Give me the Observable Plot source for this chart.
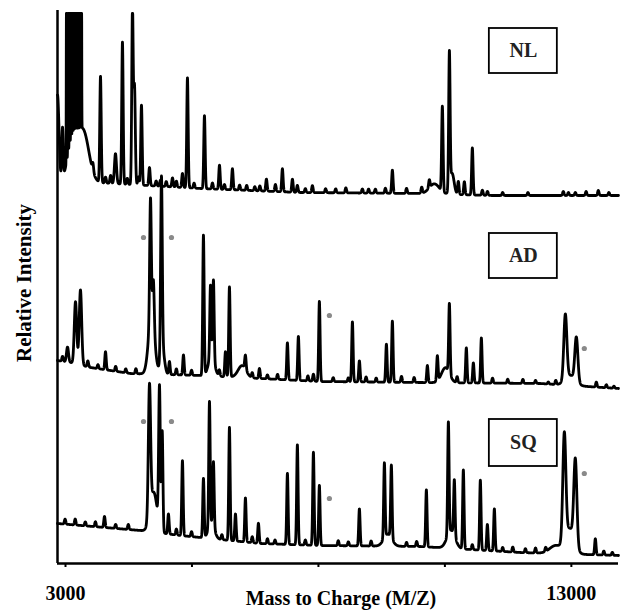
<!DOCTYPE html>
<html><head><meta charset="utf-8">
<script src="https://cdn.jsdelivr.net/npm/d3@7"></script>
<script src="https://cdn.jsdelivr.net/npm/@observablehq/plot@0.6"></script>
<style>
html,body{margin:0;padding:0;background:#fff;}
#chart svg{font-family:"Liberation Serif","Times New Roman",serif;font-weight:bold;}
</style></head><body><div id="chart"></div>
<script>
// x ticks (mass to charge)
const xTicks = [3000, 5500, 8000, 10500, 13000];
const xTickLabels = [3000, 13000];

// baselines of each spectrum: [m/z, intensity]
const nlBaseline = [[3000,378],[3750,381],[4440,379],[5830,375],[7800,371],[10200,370],[11590,368],[14090,368]];
const adBaseline = [[3000,203],[3257,201],[3652,196],[4442,190],[5826,188],[7012,185],[8197,182],[10173,181],[12545,180],[14090,175]];
const sqBaseline = [[3000,40],[4640,33],[5430,28],[7012,20],[8197,18],[10173,17],[12150,11],[14090,8]];

// peaks: [m/z, height above baseline, width (sigma, m/z)]
const nlPeaks = [
  [3000,90,30],[3099,51,14],[3296,45,100],[3514,50,110],
  [3178,200,4],[3208,200,4],[3237,200,4],[3267,200,4],[3296,200,4],[3326,200,4],
  [3356,200,4],[3385,200,4],[3415,200,4],[3445,200,4],[3474,200,4],
  [3850,106],[4146,30,20],[4284,142],[4482,175],[4522,98,16],[4660,80],[4818,18],[5035,6],
  [5273,9],[5470,14],[5569,110],[5905,73],[6063,6],[6202,24],[6458,21],[6740,5],[7130,12],
  [7308,7],[7446,23],[7644,13],[7742,7],[8039,7],[8500,4],[9027,4],[9284,4],[9482,5],
  [9620,23],[10450,10,100],[10608,85],[10747,135],[10800,21,40],[10924,13],[11043,13],
  [11201,47],[11399,5],[12999,4],[13237,3],[13691,5],
  [3700,8],[3950,6],[4050,8],[4380,6],[4600,8],[4950,5],[5150,5],[5350,6],[5700,5],
  [6300,5],[6600,5],[6900,4],[7000,5],[7900,4],[8300,4],[8700,5],[9150,4],[9900,5],
  [10200,6],[10350,8],[11500,4],[11800,3],[12300,3],[13100,3],[13450,4],[13900,3]
];
const adPeaks = [
  [3198,15,20],[3356,62,24],[3454,75,24],[3949,18],
  [4860,60,60],[4838,120,16],[4897,44,16],[5055,176,16],[5075,25,40],
  [5213,13],[5490,20],[5885,140],[6044,20,60],[6024,72],[6083,80],[6320,25],[6399,90],
  [6650,12,80],[6715,14],[6992,10],[7545,37],[7762,44],[8059,7],[8177,80],[8750,4],
  [8830,60],[8968,21],[9502,38],[9620,61],[10312,17],[10509,25],[10670,15,80],[10747,70],
  [11082,35],[11221,20],[11379,45],[12703,2],[13138,10,100],[13039,65,30],[13257,44,30],[13652,5],
  [3100,5],[3600,6],[3800,4],[4150,5],[4350,4],[4550,5],[5350,6],[5650,5],[6200,6],
  [6850,5],[7150,4],[7350,5],[7950,5],[8450,4],[9100,5],[9300,4],[9800,6],[10050,5],
  [10900,6],[11600,5],[11900,4],[12200,4],[12450,3],[12850,4],[13850,3],[14000,2]
];
const sqPeaks = [
  [3929,11],[4900,40,70],[4818,128,22],[5016,138,16],[5070,100,14],
  [5193,20],[5470,75],[5885,59],[6044,15,60],[6004,125],[6083,65],[6399,113],[6518,27],
  [6715,44],[6972,20],[7545,71],[7742,100],[8059,93],[8177,60],[8968,37],[9530,12,80],
  [9462,75],[9600,73],[10292,57],[10780,18,80],[10727,112],[10845,56],[11023,79],
  [11359,70],[11498,26],[11636,42],[12850,8,120],[13128,25,90],[13019,107,30],[13237,84,30],
  [13632,16],[13968,3],
  [3150,5],[3350,6],[3550,4],[3750,5],[4150,4],[4400,5],[5350,6],[5650,5],[6250,5],
  [6850,6],[7150,5],[7300,4],[7900,5],[8550,5],[8750,4],[9200,5],[9900,4],[10100,5],
  [11200,5],[11800,4],[12000,5],[12250,4],[12450,5],[12650,4],[13800,4]
];
const nlSaturation = 550;

// marked peaks (*) : [m/z, intensity]
const asterisks = [
  [4700,326],[5253,326],[8375,248],[13414,215],
  [4700,142],[5253,142],[8375,65],[13414,90]
];

// sample labels and their boxes (data units)
const labelNames = ["NL","AD","SQ"];
const labelMz = [11537, 12881];
const labelLow = [490, 285, 97];
const labelHigh = [535, 330, 144];

function trace(name, baseline, peaks, cap) {
  const base = d3.scaleLinear().domain(baseline.map(d => d[0])).range(baseline.map(d => d[1]));
  const pts = [];
  for (let mz = 3000; mz <= 14090; mz += 1.5) {
    let v = base(mz);
    for (const [c, h, s = 14] of peaks) {
      const z = (mz - c) / s;
      if (Math.abs(z) < 6) v += h * Math.exp(-0.5 * z * z);
    }
    if (cap != null) v = Math.min(v, cap);
    pts.push({name, mz, v});
  }
  return pts;
}

const data = [
  ...trace("NL", nlBaseline, nlPeaks, nlSaturation),
  ...trace("AD", adBaseline, adPeaks),
  ...trace("SQ", sqBaseline, sqPeaks)
];
const boxes = labelNames.map((n, i) => ({name: n, x1: labelMz[0], x2: labelMz[1], y1: labelLow[i], y2: labelHigh[i]}));
const stars = asterisks.map(([mz, v]) => ({mz, v}));

const chart = Plot.plot({
  width: 622,
  height: 610,
  marginLeft: 57,
  marginRight: 4,
  marginTop: 10,
  marginBottom: 47,
  style: {fontFamily: "Liberation Serif, Times New Roman, serif", fontSize: "20px", background: "white"},
  x: {domain: [3000, 14090]},
  y: {domain: [0, 553], axis: null},
  marks: [
    Plot.line(data, {x: "mz", y: "v", z: "name", stroke: "black", strokeWidth: 2.8, strokeLinejoin: "round"}),
    Plot.dot(stars, {x: "mz", y: "v", r: 2.6, fill: "#8a8a8a", stroke: "none"}),
    Plot.rect(boxes, {x1: "x1", x2: "x2", y1: "y1", y2: "y2", fill: "white", stroke: "black", strokeWidth: 1.8}),
    Plot.text(boxes, {x: d => (d.x1 + d.x2) / 2, y: d => (d.y1 + d.y2) / 2, text: "name", fontSize: 20, fontWeight: "bold", fill: "#222"}),
    Plot.ruleX([3000], {stroke: "black", strokeWidth: 2.5}),
    Plot.ruleY([0], {stroke: "black", strokeWidth: 2.5}),
    Plot.axisX({ticks: xTicks, tickSize: 4, tickPadding: 18, strokeWidth: 2, dx: 8, fontSize: 20,
      tickFormat: d => xTickLabels.includes(d) ? String(d) : "", label: null}),
    Plot.text(["Mass to Charge (M/Z)"], {frameAnchor: "bottom", lineAnchor: "middle", dy: 35, dx: 3, fontSize: 20, fontWeight: "bold"}),
    Plot.text(["Relative Intensity"], {frameAnchor: "left", textAnchor: "middle", lineAnchor: "middle", dx: -33, dy: -4, rotate: -90, fontSize: 21, fontWeight: "bold"})
  ]
});
document.getElementById("chart").appendChild(chart);
</script></body></html>
